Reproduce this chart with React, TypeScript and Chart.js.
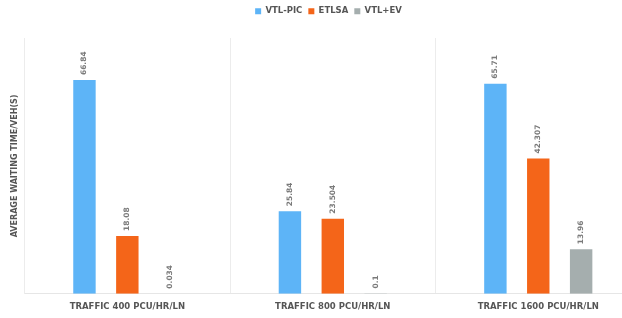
import React, { useEffect, useRef } from "react";
import { Chart, registerables } from "chart.js";

Chart.register(...registerables);

const categories = ["TRAFFIC 400 PCU/HR/LN", "TRAFFIC 800 PCU/HR/LN", "TRAFFIC 1600 PCU/HR/LN"];
const vtlPic = [66.84, 25.84, 65.71];
const etlsa = [18.08, 23.504, 42.307];
const vtlEv = [0.034, 0.1, 13.96];
const vtlPicLabels = ["66.84", "25.84", "65.71"];
const etlsaLabels = ["18.08", "23.504", "42.307"];
const vtlEvLabels = ["0.034", "0.1", "13.96"];

const valueLabelPlugin = {
  id: "valueLabels",
  afterDatasetsDraw(chart: any) {
    const ctx = chart.ctx;
    const labelSets = [vtlPicLabels, etlsaLabels, vtlEvLabels];
    chart.data.datasets.forEach((ds: any, di: number) => {
      const meta = chart.getDatasetMeta(di);
      meta.data.forEach((bar: any, i: number) => {
        ctx.save();
        ctx.translate(bar.x, bar.y - 5);
        ctx.rotate(-Math.PI / 2);
        ctx.font = "bold 7.5px 'DejaVu Sans'";
        ctx.fillStyle = "#7a7a7a";
        ctx.textAlign = "left";
        ctx.textBaseline = "middle";
        ctx.fillText(labelSets[di][i], 0, 0);
        ctx.restore();
      });
    });
  },
};

const legendSpacingPlugin = {
  id: "legendSpacing",
  beforeInit(chart: any) {
    const legend = chart.legend;
    const origFit = legend.fit;
    legend.fit = function () {
      origFit.call(this);
      this.height += 12.5;
    };
  },
  afterLayout(chart: any) {
    const legend = chart.legend;
    legend.left += 6.5;
    legend.right += 6.5;
  },
};

export default function App() {
  const ref = useRef<HTMLCanvasElement>(null);
  useEffect(() => {
    const chart = new Chart(ref.current!, {
      type: "bar",
      data: {
        labels: categories,
        datasets: [
          { label: "VTL-PIC", data: vtlPic, backgroundColor: "#5DB4F7", borderWidth: 0 },
          { label: "ETLSA", data: etlsa, backgroundColor: "#F46519", borderWidth: 0 },
          { label: "VTL+EV", data: vtlEv, backgroundColor: "#A5AEAE", borderWidth: 0 },
        ],
      },
      options: {
        responsive: false,
        animation: false,
        layout: { padding: { left: 0, right: 4, top: 1, bottom: 0 } },
        datasets: { bar: { categoryPercentage: 0.626, barPercentage: 0.523 } },
        plugins: {
          legend: {
            position: "top",
            labels: {
              boxWidth: 6,
              boxHeight: 6,
              padding: 6,
              color: "#555",
              font: { family: "'DejaVu Sans'", weight: "bold", size: 8.5 },
            },
          },
          tooltip: { enabled: false },
        },
        scales: {
          x: {
            grid: { display: true, offset: true, color: "#ececec", drawTicks: false },
            border: { display: true, color: "#e6e6e6" },
            ticks: {
              color: "#555",
              padding: 8,
              font: { family: "'DejaVu Sans'", weight: "bold", size: 8.5 },
            },
          },
          y: {
            min: 0,
            max: 80,
            grid: { display: false, drawTicks: false },
            border: { display: true, color: "#ececec" },
            ticks: { display: false },
            title: {
              display: true,
              text: "AVERAGE WAITING TIME/VEH(S)",
              color: "#555",
              padding: { top: 7, bottom: 5 },
              font: { family: "'DejaVu Sans'", weight: "bold", size: 8 },
            },
          },
        },
      },
      plugins: [legendSpacingPlugin, valueLabelPlugin],
    });
    return () => chart.destroy();
  }, []);
  return (
    <div style={{ position: "fixed", left: 0, top: 0, width: 622, height: 318, overflow: "hidden", background: "#fff" }}>
      <div style={{ position: "absolute", left: 3, top: 0 }}>
        <canvas ref={ref} width={642} height={320} style={{ display: "block" }} />
      </div>
    </div>
  );
}
